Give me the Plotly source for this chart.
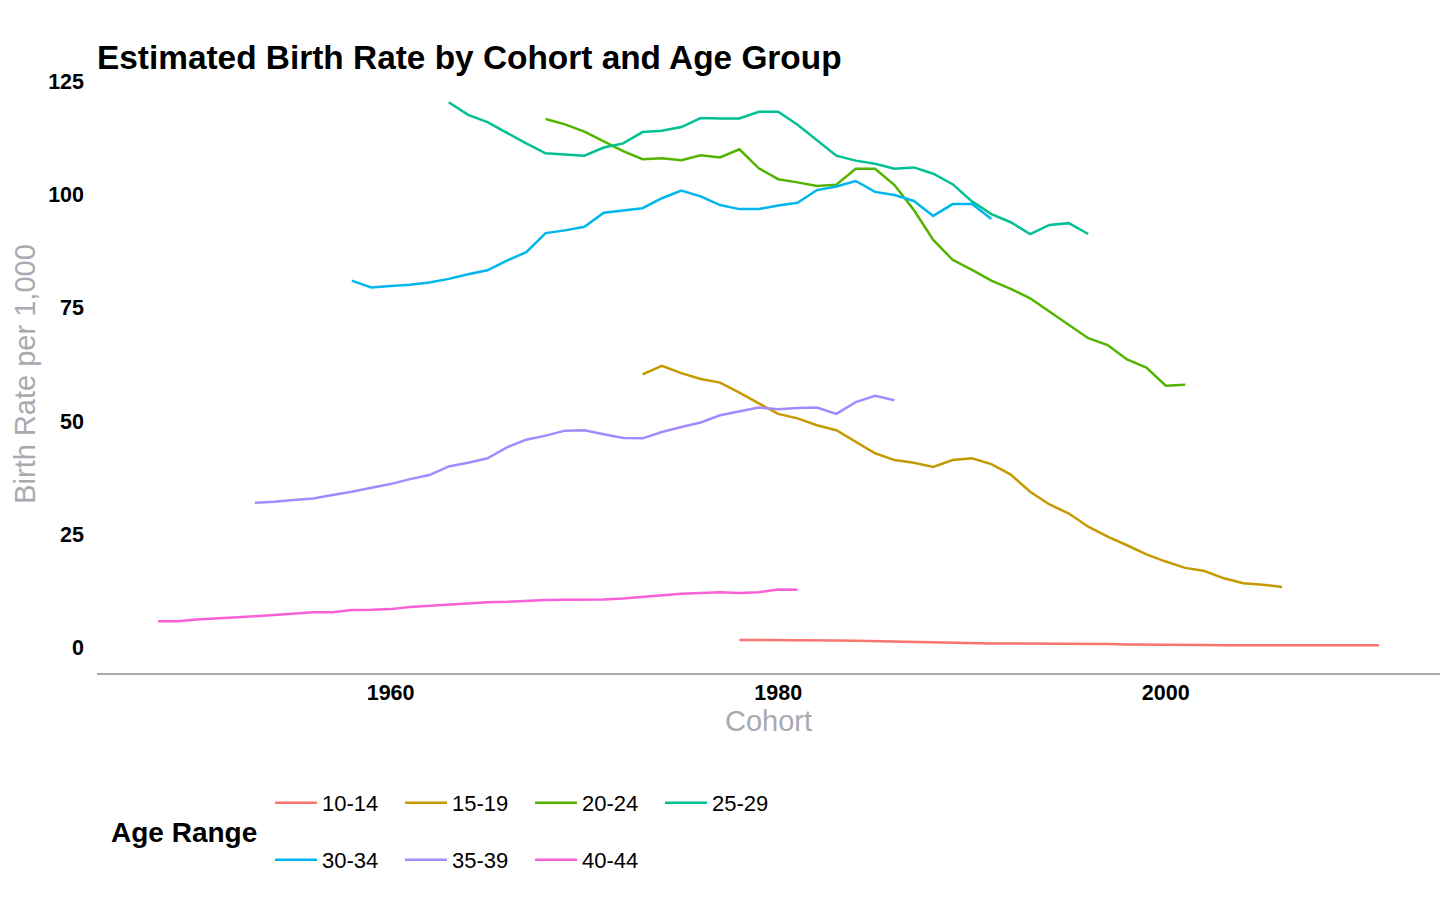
import plotly.graph_objects as go

age_groups = ["10-14", "15-19", "20-24", "25-29", "30-34", "35-39", "40-44"]
colors = ["#F8766D", "#C49A00", "#53B400", "#00C094", "#00B6EB", "#A58AFF", "#FB61D7"]

start_years = {"10-14": 1978, "15-19": 1973, "20-24": 1968, "25-29": 1963,
               "30-34": 1958, "35-39": 1953, "40-44": 1948}

rate_10_14 = [1.7, 1.7, 1.7, 1.7, 1.7, 1.6, 1.5, 1.4, 1.3, 1.2, 1.2, 1.1, 1.0, 0.9, 0.9, 0.9, 0.9,
              0.9, 0.9, 0.8, 0.7, 0.7, 0.7, 0.6, 0.6, 0.5, 0.5, 0.5, 0.5, 0.5, 0.5, 0.5, 0.5, 0.5]
rate_15_19 = [60.3, 62.2, 60.6, 59.3, 58.5, 56.3, 53.9, 51.6, 50.6, 49.1, 48.0, 45.5, 42.9, 41.4,
              40.8, 39.9, 41.4, 41.8, 40.5, 38.2, 34.4, 31.6, 29.6, 26.7, 24.5, 22.6, 20.6, 19.0,
              17.6, 16.9, 15.3, 14.2, 13.9, 13.4]
rate_20_24 = [116.7, 115.5, 113.9, 111.7, 109.6, 107.8, 108.0, 107.6, 108.7, 108.2, 110.0, 105.8,
              103.4, 102.7, 101.9, 102.2, 105.7, 105.7, 102.1, 96.6, 90.0, 85.6, 83.4, 81.0, 79.2,
              77.1, 74.2, 71.2, 68.3, 66.8, 63.6, 61.8, 57.8, 58.0]
rate_25_29 = [120.4, 117.6, 116.0, 113.6, 111.3, 109.1, 108.9, 108.6, 110.4, 111.3, 113.8, 114.1,
              114.9, 116.9, 116.8, 116.8, 118.3, 118.3, 115.4, 111.9, 108.6, 107.5, 106.8, 105.7,
              106.0, 104.6, 102.3, 98.5, 95.7, 93.9, 91.3, 93.3, 93.7, 91.3]
rate_30_34 = [81.0, 79.5, 79.8, 80.1, 80.6, 81.4, 82.4, 83.3, 85.4, 87.3, 91.5, 92.1, 92.9, 96.0,
              96.5, 97.0, 99.2, 100.9, 99.6, 97.7, 96.8, 96.8, 97.6, 98.2, 101.0, 101.8, 103.0,
              100.6, 99.9, 98.6, 95.3, 97.9, 97.9, 94.6]
rate_35_39 = [32.0, 32.2, 32.6, 32.9, 33.7, 34.4, 35.3, 36.1, 37.2, 38.1, 40.0, 40.8, 41.8, 44.2,
              45.9, 46.8, 47.9, 48.0, 47.1, 46.3, 46.2, 47.6, 48.7, 49.7, 51.3, 52.1, 53.0, 52.6,
              52.9, 53.0, 51.6, 54.2, 55.6, 54.6]
rate_40_44 = [5.85, 5.8, 6.2, 6.5, 6.7, 6.95, 7.2, 7.5, 7.8, 7.8, 8.3, 8.35, 8.5, 8.95, 9.25, 9.4,
              9.7, 10.0, 10.1, 10.35, 10.5, 10.55, 10.6, 10.6, 10.85, 11.2, 11.7, 11.9, 12.05,
              12.25, 12.05, 12.25, 12.85, 12.8]

rates = {"10-14": rate_10_14, "15-19": rate_15_19, "20-24": rate_20_24, "25-29": rate_25_29,
         "30-34": rate_30_34, "35-39": rate_35_39, "40-44": rate_40_44}

y_ticks = [0, 25, 50, 75, 100, 125]
x_ticks = [1960, 1980, 2000]

FONT = "Liberation Sans, Arial, Helvetica, sans-serif"
GREY = "#A9A9B1"

# figure sits inside the page body (8px default margin)
W, H = 1440, 894
PLOT_W, PLOT_H = 1343, 598

fig = go.Figure()
for i, (g, c) in enumerate(zip(age_groups, colors)):
    vals = rates[g]
    xs = [start_years[g] + k for k in range(len(vals))]
    fig.add_trace(go.Scatter(
        x=xs, y=vals, mode="lines", name=g,
        line=dict(color=c, width=2.5),
        legend="legend" if i < 4 else "legend2",
    ))

legend_common = dict(orientation="h", x=173 / PLOT_W, xanchor="left", yanchor="middle",
                     font=dict(size=22, color="black", family=FONT),
                     itemwidth=42, entrywidth=73, entrywidthmode="pixels",
                     bgcolor="rgba(0,0,0,0)", traceorder="normal")

fig.update_layout(
    width=W, height=H,
    margin=dict(l=89, r=8, t=67, b=229),
    paper_bgcolor="white", plot_bgcolor="white",
    font=dict(family=FONT, color="black"),
    title=dict(text="<b>Estimated Birth Rate by Cohort and Age Group</b>",
               x=89 / W, xanchor="left", xref="container",
               y=1 - 49 / H, yanchor="middle", yref="container",
               font=dict(size=33.4, color="black", family=FONT)),
    xaxis=dict(range=[1944.85, 2014.15], tickvals=x_ticks, ticktext=[f"<b>{v}</b>" for v in x_ticks],
               showgrid=False, zeroline=False, showline=True, linecolor=GREY, linewidth=2,
               ticks="", ticklabelstandoff=-1,
               tickfont=dict(size=21.5, color="black", family=FONT),
               title=dict(text="Cohort", font=dict(size=29, color=GREY, family=FONT), standoff=6)),
    yaxis=dict(range=[-5.6, 126.4], tickvals=y_ticks, ticktext=[f"<b>{v}</b>" for v in y_ticks],
               showgrid=False, zeroline=False, showline=False, ticks="", ticklabelstandoff=12,
               tickfont=dict(size=21.5, color="black", family=FONT),
               title=dict(text="Birth Rate per 1,000", font=dict(size=29, color=GREY, family=FONT),
                          standoff=3)),
    legend=dict(legend_common, y=(665 - 795) / PLOT_H),
    legend2=dict(legend_common, y=(665 - 852) / PLOT_H),
    annotations=[dict(text="<b>Age Range</b>", xref="paper", yref="paper",
                      x=87 / PLOT_W, y=(665 - 824) / PLOT_H, xanchor="center", yanchor="middle",
                      showarrow=False, font=dict(size=28, color="black", family=FONT))],
)

fig.write_html("out.html")
